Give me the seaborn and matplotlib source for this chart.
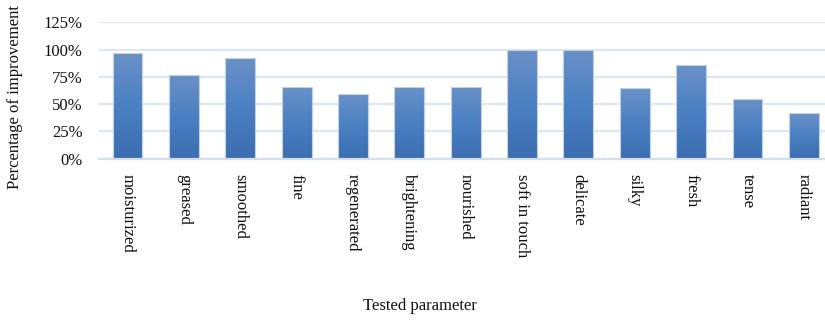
import matplotlib
matplotlib.use("Agg")
import matplotlib.pyplot as plt
import seaborn as sns
import numpy as np
import pandas as pd
from matplotlib.colors import LinearSegmentedColormap

categories = ["moisturized", "greased", "smoothed", "fine", "regenerated",
              "brightening", "nourished", "soft in touch", "delicate", "silky",
              "fresh", "tense", "radiant"]
values = [97, 77, 92, 66, 59, 66, 66, 100, 100, 65, 86, 55, 42]
y_ticks = [0, 25, 50, 75, 100, 125]
y_tick_labels = ["0%", "25%", "50%", "75%", "100%", "125%"]

df = pd.DataFrame({"param": categories, "value": values})

sns.set_style("white")
plt.rcParams["font.family"] = ["Liberation Serif", "DejaVu Serif"]
plt.rcParams["font.size"] = 12

fig = plt.figure(figsize=(8.25, 3.23), dpi=100)
W, H = 825, 323
left, right, top, bottom = 99.3, 832.0, 22.3, 158.7
ax = fig.add_axes([left / W, (H - bottom) / H, (right - left) / W, (bottom - top) / H])

sns.barplot(data=df, x="param", y="value", ax=ax, width=0.53,
            color="#4a7fc0", edgecolor="#c0d2ea", linewidth=0.8, zorder=3)

cmap = LinearSegmentedColormap.from_list("g", ["#3b6daf", "#4a80c2", "#6a91c8"])
grad = np.linspace(0, 1, 256).reshape(-1, 1)
for p in ax.patches:
    x0, y0 = p.get_x(), p.get_y()
    w, h = p.get_width(), p.get_height()
    im = ax.imshow(grad, cmap=cmap, origin="lower", aspect="auto",
                   extent=[x0, x0 + w, y0, y0 + h], zorder=2.5)
    im.set_clip_path(p)
    p.set_facecolor("none")

ax.set_xlim(-0.5, len(categories) - 0.5)
ax.set_ylim(0, 125)
ax.set_yticks(y_ticks)
ax.set_yticklabels(y_tick_labels)
ax.yaxis.grid(True, color="#dde6f2", linewidth=1.6, zorder=0)
ax.set_axisbelow(True)
for s in ["top", "right", "left"]:
    ax.spines[s].set_visible(False)
ax.spines["bottom"].set_color("#d3dff0")
ax.spines["bottom"].set_linewidth(1.6)

ax.tick_params(axis="both", length=0, labelsize=12, colors="#111111")
ax.tick_params(axis="y", pad=12)
ax.tick_params(axis="x", pad=11)
plt.setp(ax.get_xticklabels(), rotation=270, va="top", ha="center")

ax.set_xlabel("Tested parameter", fontsize=12, color="#111111", va="center")
ax.xaxis.set_label_coords((420 - left) / (right - left), -(306 - bottom) / (bottom - top))
ax.set_ylabel("Percentage of improvement", fontsize=12, color="#111111", va="center")
ax.yaxis.set_label_coords((15 - left) / (right - left), (bottom - 97) / (bottom - top))

fig.savefig("out.png", dpi=100)
